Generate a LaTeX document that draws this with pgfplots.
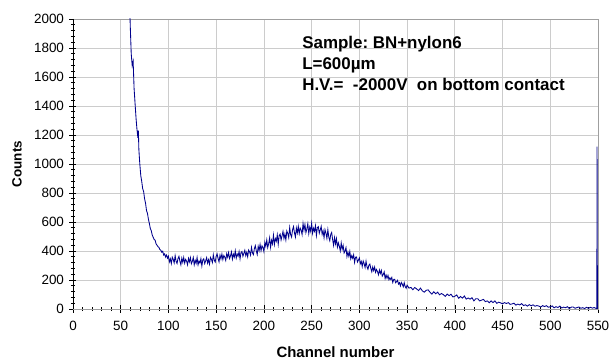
\documentclass[border=0pt]{standalone}
\usepackage{pgfplots}
\pgfplotsset{compat=1.18}
\usepackage{fontspec}
\setmainfont{Liberation Sans}
\definecolor{spec}{RGB}{0,0,140}
\frenchspacing
\begin{document}
\begin{tikzpicture}
\begin{axis}[
  scale only axis, width=525bp, height=290bp,
  xmin=0, xmax=550, ymin=0, ymax=2000,
  xtick={0,50,...,550}, ytick={0,200,...,2000},
  minor x tick num=4, minor y tick num=4,
  tick pos=left,
  tick align=center, major tick length=7bp, minor tick length=4bp,
  tick style={black, line width=0.6bp},
  grid=major, grid style={gray!40, line width=0.8bp},
  axis line style={gray!75, line width=0.8bp},
  /pgf/number format/assume math mode=true,
  /pgf/number format/1000 sep={},
  ticklabel style={font=\fontsize{13.5}{15}\selectfont},
  xticklabel style={yshift=-5bp},
  yticklabel style={xshift=-2bp},
  xlabel={Channel number}, ylabel={Counts},
  every axis x label/.style={at={(axis description cs:0.5,0)}, yshift=-43bp, anchor=center, font=\fontsize{15}{17}\selectfont\bfseries},
  every axis y label/.style={at={(axis description cs:0,0.5)}, xshift=-56bp, rotate=90, anchor=center, font=\fontsize{13.5}{15}\selectfont\bfseries},
  clip=true,
]
\addplot[color=spec, line width=0.85bp] coordinates {
(58,2400)(60,1950)(61,1760)(62,1680)(63,1710)(64,1520)(65,1420)(66,1320)(67,1240)(68,1180)(68.5,1230)(69,1100)(70,1000)(71,920)(72,880)(73,830)(74,810)(75,760)(76,730)(77,680)(78,660)(79,620)(80,590)(81,555)(82,540)(83,510)(84,495)(85,480)(86,475)(87,450)(88,440)(89,430)(90,425)(91,410)(92,405)(93,392)(94,398)(95,372)(96,380)(97,358)(98,372)(99,350)
(100,364)(101,325)(102,346)(103,313)(104,357)(105,342)(106,318)(107,368)(108,329)(109,314)
(110,348)(111,363)(112,329)(113,305)(114,350)(115,322)(116,355)(117,316)(118,342)(119,330)
(120,305)(121,349)(122,325)(123,354)(124,312)(125,329)(126,355)(127,304)(128,336)(129,315)
(130,355)(131,304)(132,331)(133,317)(134,347)(135,297)(136,339)(137,346)(138,313)(139,332)
(140,354)(141,317)(142,340)(143,309)(144,356)(145,343)(146,321)(147,374)(148,337)(149,324)
(150,364)(151,380)(152,348)(153,325)(154,371)(155,345)(156,379)(157,341)(158,369)(159,358)
(160,335)(161,381)(162,358)(163,389)(164,348)(165,366)(166,394)(167,344)(168,378)(169,358)
(170,401)(171,351)(172,379)(173,365)(174,396)(175,346)(176,389)(177,396)(178,364)(179,383)
(180,405)(181,368)(182,391)(183,360)(184,407)(185,394)(186,372)(187,425)(188,388)(189,375)
(190,416)(191,437)(192,401)(193,376)(194,432)(195,403)(196,445)(197,402)(198,436)(199,424)
(200,396)(201,460)(202,432)(203,476)(204,424)(205,451)(206,491)(207,426)(208,474)(209,449)
(210,509)(211,445)(212,485)(213,468)(214,512)(215,447)(216,506)(217,517)(218,476)(219,504)
(220,535)(221,486)(222,517)(223,476)(224,538)(225,521)(226,492)(227,562)(228,513)(229,496)
(230,546)(231,568)(232,526)(233,496)(234,558)(235,524)(236,570)(237,520)(238,558)(239,544)
(240,514)(241,590)(242,543)(243,583)(244,527)(245,552)(246,588)(247,520)(248,564)(249,536)
(250,591)(251,522)(252,557)(253,536)(254,575)(255,506)(256,561)(257,568)(258,522)(259,545)
(260,570)(261,515)(262,539)(263,491)(264,547)(265,523)(266,487)(267,547)(268,495)(269,471)
(270,514)(271,528)(272,478)(273,439)(274,492)(275,449)(276,486)(277,427)(278,456)(279,433)
(280,401)(281,456)(282,412)(283,438)(284,387)(285,400)(286,423)(287,362)(288,392)(289,363)
(290,398)(291,346)(292,368)(293,350)(294,374)(295,322)(296,357)(297,359)(298,324)(299,337)
(300,352)(301,312)(302,328)(303,293)(304,331)(305,313)(306,286)(307,330)(308,291)(309,274)
(310,302)(311,310)(312,280)(313,257)(314,290)(315,265)(316,289)(317,253)(318,272)(319,258)
(320,236)(321,269)(322,245)(323,266)(324,227)(325,238)(326,256)(327,210)(328,234)(329,212)
(330,232)(331,202)(332,215)(333,203)(334,217)(335,183)(336,204)(337,205)(338,181)(339,189)
(340,198)(341,172)(342,182)(343,159)(344,183)(345,171)(346,153)(347,181)(348,155)(349,143)
(350,164)(352,144)(354,149)(356,133)(358,148)(360,139)(362,127)(364,144)(366,125)(368,116)
(370,129)(372,132)(374,116)(376,103)(378,119)(380,105)(382,116)(384,98)(386,107)(388,99)
(390,87)(392,103)(394,92)(396,102)(398,83)(400,88)(402,97)(404,74)(406,86)(408,75)
(410,90)(412,68)(414,76)(416,68)(418,78)(420,56)(422,71)(424,71)(426,56)(428,61)
(430,66)(432,51)(434,56)(436,43)(438,56)(440,44)(442,56)(444,39)(446,47)(448,42)
(450,36)(452,44)(454,38)(456,44)(458,32)(460,35)(462,40)(464,27)(466,34)(468,28)
(470,37)(472,24)(474,29)(476,20)(478,30)(480,22)(482,29)(484,19)(486,24)(488,20)
(490,14)(492,23)(494,17)(496,23)(498,12)(500,16)(502,21)(504,8)(506,16)(508,10)
(510,20)(512,7)(514,13)(516,9)(518,16)(520,3)(522,13)(524,14)(526,5)(528,10)
(530,14)(532,5)(534,9)(536,3)(538,12)(540,4)(542,12)(544,6)(546,10)(548,4)
(548.8,4)(549,1120)(549.4,0)
};
\draw[black, line width=0.9bp] (rel axis cs:0,1) -- (rel axis cs:0,0) -- (rel axis cs:1,0);
\node[anchor=north west, align=left, font=\fontsize{17}{21}\selectfont\bfseries, inner sep=0pt]
  at (axis cs:240,1883) {Sample: BN+nylon6\\L=600µm\\H.V.=\ \ -2000V\ \ on bottom contact};
\end{axis}
\pgfresetboundingbox
\path (-73bp,-51bp) rectangle (538bp,309bp);
\end{tikzpicture}
\end{document}
